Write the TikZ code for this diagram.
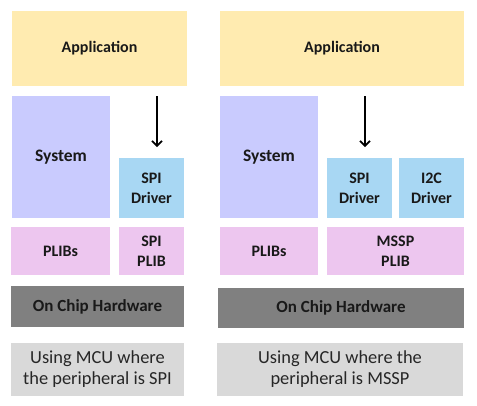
\documentclass[tikz,border=0pt]{standalone}
\usepackage{fontspec}
\setmainfont{Carlito}
\usetikzlibrary{arrows.meta}
\definecolor{appc}{HTML}{FFEBB0}
\definecolor{sysc}{HTML}{C9CBFE}
\definecolor{drvc}{HTML}{A8D7F3}
\definecolor{plibc}{HTML}{EDC6EF}
\definecolor{hwc}{HTML}{808080}
\definecolor{capc}{HTML}{D9D9D9}
\tikzset{
  blk/.style={inner sep=0pt, outer sep=0pt, align=center, text=black!90, font=\fontsize{16}{20}\selectfont\bfseries},
  appbox/.style={blk, fill=appc},
  sysbox/.style={blk, fill=sysc, font=\fontsize{17.5}{20}\selectfont\bfseries},
  drvbox/.style={blk, fill=drvc},
  plibbox/.style={blk, fill=plibc},
  hwbox/.style={blk, fill=hwc, font=\fontsize{17}{20}\selectfont\bfseries},
  capbox/.style={blk, fill=capc, text=black!85, font=\fontsize{18.4}{21}\selectfont},
  flow/.style={line width=1.6pt, -{Straight Barb[length=5pt,width=10pt,line width=1.6pt]}}
}
\begin{document}
\begin{tikzpicture}[x=1pt,y=-1pt]
\useasboundingbox (0,0) rectangle (477,405);
% left column
\node[appbox, minimum width=175pt, minimum height=75pt] (appL) at (99.5,48.5) {Application};
\node[sysbox, minimum width=98pt, minimum height=122pt] (sysL) at (61,157) {System};
\node[drvbox, minimum width=65pt, minimum height=60pt] (spiL) at (151.5,188) {SPI\\Driver};
\node[plibbox, minimum width=99pt, minimum height=48pt] (plibsL) at (60.5,251) {PLIBs};
\node[plibbox, minimum width=65pt, minimum height=48pt] (spiplibL) at (151.5,251) {SPI\\PLIB};
\node[hwbox, minimum width=173pt, minimum height=41pt] (hwL) at (97.5,306.5) {On Chip Hardware};
\node[capbox, minimum width=173pt, minimum height=53pt] (capL) at (97.5,369.5) {Using MCU where\\the peripheral is SPI};
\coordinate (aL1) at (157,96);
\coordinate (aL2) at (157,147);
\draw[flow] (aL1) -- (aL2);
% right column
\node[appbox, minimum width=244pt, minimum height=75pt] (appR) at (342,48.5) {Application};
\node[sysbox, minimum width=98pt, minimum height=122pt] (sysR) at (269,157) {System};
\node[drvbox, minimum width=65pt, minimum height=60pt] (spiR) at (359.5,188) {SPI\\Driver};
\node[drvbox, minimum width=65pt, minimum height=60pt] (i2cR) at (431.5,188) {I2C\\Driver};
\node[plibbox, minimum width=98pt, minimum height=48pt] (plibsR) at (269,251) {PLIBs};
\node[plibbox, minimum width=137pt, minimum height=48pt] (msspR) at (395.5,251) {MSSP\\PLIB};
\node[hwbox, minimum width=246pt, minimum height=40pt] (hwR) at (341,308) {On Chip Hardware};
\node[capbox, minimum width=246pt, minimum height=53pt] (capR) at (340,369.5) {Using MCU where the\\peripheral is MSSP};
\coordinate (aR1) at (365,96);
\coordinate (aR2) at (365,147);
\draw[flow] (aR1) -- (aR2);
\end{tikzpicture}
\end{document}
